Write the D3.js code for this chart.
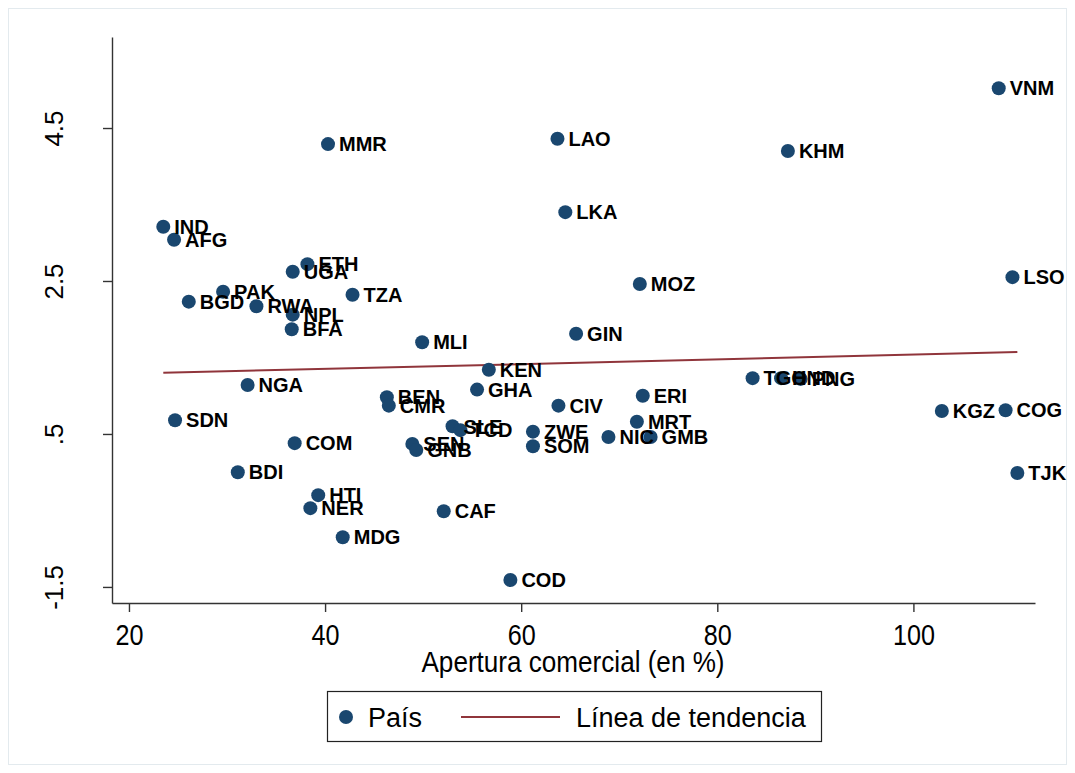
<!DOCTYPE html>
<html>
<head>
<meta charset="utf-8">
<script src="https://cdn.jsdelivr.net/npm/d3@7"></script>
<style>
  body { margin: 0; background: #fff; }
  svg { display: block; }
</style>
</head>
<body>
<div id="chart"></div>
<script>
// country codes, trade openness (%) and y value
let countries = ["VNM","LAO","MMR","KHM","LKA","IND","AFG","ETH","UGA","LSO","MOZ","PAK","TZA","BGD","RWA","NPL","BFA","GIN","MLI","KEN","TGO","HND","PNG","NGA","GHA","BEN","ERI","CMR","CIV","KGZ","COG","SDN","MRT","SLE","TCD","ZWE","NIC","GMB","COM","SEN","SOM","GNB","BDI","TJK","HTI","NER","CAF","MDG","COD"];
let apertura = [108.7,63.7,40.3,87.2,64.5,23.5,24.6,38.2,36.7,110.1,72.1,29.6,42.8,26.1,33.0,36.7,36.6,65.6,49.9,56.7,83.6,86.5,88.5,32.1,55.5,46.3,72.4,46.5,63.8,102.9,109.4,24.7,71.8,53.0,53.8,61.2,68.9,73.2,36.9,48.9,61.2,49.3,31.1,110.6,39.3,38.5,52.1,41.8,58.9];
let valores = [5.02,4.36,4.29,4.20,3.40,3.21,3.04,2.72,2.62,2.55,2.46,2.36,2.32,2.23,2.17,2.06,1.87,1.81,1.70,1.34,1.23,1.23,1.22,1.14,1.08,0.98,1.00,0.87,0.87,0.80,0.81,0.68,0.66,0.60,0.55,0.53,0.46,0.46,0.38,0.37,0.34,0.29,0.00,-0.01,-0.30,-0.47,-0.51,-0.85,-1.41];

// trend line end points
let trendX = [23.5, 110.6];
let trendY = [1.30, 1.57];

let xTicks = [20, 40, 60, 80, 100];
let yTicks = [-1.5, 0.5, 2.5, 4.5];
let yTickLabels = ["-1.5", ".5", "2.5", "4.5"];

let navy = "#1a476f";
let maroon = "#90353b";
let narrow = "'Liberation Sans Narrow', 'Arial Narrow', 'Liberation Sans', Arial, sans-serif";
let sans = "'Liberation Sans', Arial, sans-serif";

let W = 1075, H = 773;
let margin = { top: 37, right: 40, bottom: 170, left: 112 },
    width = W - margin.left - margin.right,
    height = H - margin.top - margin.bottom;

let svg = d3.select("#chart").append("svg")
    .attr("width", W)
    .attr("height", H);

// faint outer frame
svg.append("rect")
    .attr("x", 8.5).attr("y", 8.5)
    .attr("width", W - 17).attr("height", H - 17)
    .attr("fill", "#fff")
    .attr("stroke", "#e3eaee");

let g = svg.append("g")
    .attr("transform", "translate(" + margin.left + "," + margin.top + ")");

let x = d3.scaleLinear().domain([18.27, 112.4]).range([0, width]);
let y = d3.scaleLinear().domain([-1.71, 5.69]).range([height, 0]);

// axes
let xAxis = g.append("g")
    .attr("transform", "translate(0," + height + ")")
    .call(d3.axisBottom(x).tickValues(xTicks).tickSize(9).tickSizeOuter(0));
xAxis.selectAll("text")
    .style("font-family", narrow)
    .style("font-size", "30px")
    .attr("fill", "#000")
    .attr("y", 0).attr("dy", 0)
    .attr("transform", "translate(0,42) scale(0.84,1)");

let yAxis = g.append("g")
    .call(d3.axisLeft(y).tickValues(yTicks).tickFormat(function (d, i) { return yTickLabels[i]; })
        .tickSize(9).tickSizeOuter(0));
yAxis.selectAll("text")
    .style("font-family", sans)
    .style("font-size", "26px")
    .attr("fill", "#000")
    .attr("text-anchor", "middle")
    .attr("x", 0)
    .attr("y", -49)
    .attr("dy", 0)
    .attr("transform", "rotate(-90)");

g.selectAll(".domain, .tick line")
    .attr("stroke", "#333")
    .attr("stroke-width", 1.4);

// x axis title
g.append("text")
    .attr("transform", "translate(" + (573 - margin.left) + "," + (height + 69) + ") scale(0.87,1)")
    .attr("text-anchor", "middle")
    .style("font-family", narrow)
    .style("font-size", "30px")
    .text("Apertura comercial (en %)");

// trend line
g.append("path")
    .datum(d3.zip(trendX, trendY))
    .attr("d", d3.line()
        .x(function (d) { return x(d[0]); })
        .y(function (d) { return y(d[1]); }))
    .attr("stroke", maroon)
    .attr("stroke-width", 2)
    .attr("fill", "none");

// points
let data = countries.map(function (c, i) { return { name: c, x: apertura[i], y: valores[i] }; });

g.selectAll(".dot")
    .data(data)
    .enter().append("circle")
    .attr("class", "dot")
    .attr("cx", function (d) { return x(d.x); })
    .attr("cy", function (d) { return y(d.y); })
    .attr("r", 7)
    .attr("fill", navy);

g.selectAll(".lbl")
    .data(data)
    .enter().append("text")
    .attr("class", "lbl")
    .attr("x", function (d) { return x(d.x) + 11; })
    .attr("y", function (d) { return y(d.y); })
    .attr("dy", "0.36em")
    .style("font-family", sans)
    .style("font-weight", "bold")
    .style("font-size", "20px")
    .text(function (d) { return d.name; });

// legend
let lg = svg.append("g").attr("transform", "translate(327,691)");
lg.append("rect")
    .attr("x", 0.5).attr("y", 0.5)
    .attr("width", 494).attr("height", 50)
    .attr("fill", "#fff")
    .attr("stroke", "#222")
    .attr("stroke-width", 1.2);
lg.append("circle").attr("cx", 19).attr("cy", 26).attr("r", 7).attr("fill", navy);
lg.append("text").attr("x", 41).attr("y", 26).attr("dy", "0.36em")
    .style("font-family", sans)
    .style("font-size", "27px").text("País");
lg.append("line").attr("x1", 134).attr("x2", 233).attr("y1", 26).attr("y2", 26)
    .attr("stroke", maroon).attr("stroke-width", 2);
lg.append("text").attr("x", 249).attr("y", 26).attr("dy", "0.36em")
    .style("font-family", sans)
    .style("font-size", "27px").text("Línea de tendencia");
</script>
</body>
</html>
